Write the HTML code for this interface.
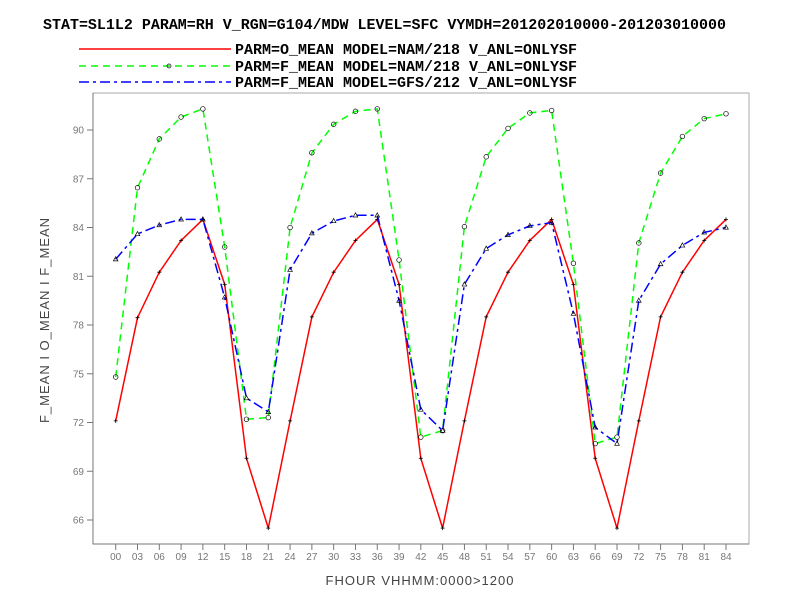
<!DOCTYPE html>
<html><head><meta charset="utf-8"><style>
html,body{margin:0;padding:0;background:#fff;}
svg{display:block;}
.t{font-family:"Liberation Mono",monospace;font-weight:bold;font-size:15px;fill:#000;}
.tk{font-family:"Liberation Sans",sans-serif;font-size:10px;fill:#777;}
.ax{font-family:"Liberation Sans",sans-serif;font-size:13px;fill:#444;letter-spacing:1px;}
</style></head><body>
<svg id="chart" width="792" height="612" viewBox="0 0 792 612" xmlns="http://www.w3.org/2000/svg">
<text class="t" x="43" y="29" textLength="683" lengthAdjust="spacingAndGlyphs">STAT=SL1L2 PARAM=RH V_RGN=G104/MDW LEVEL=SFC VYMDH=201202010000-201203010000</text>
<g>
<g><line x1="79" y1="49" x2="231" y2="49" stroke="#f00" stroke-width="1.5"/><text class="t" x="235" y="54" textLength="342" lengthAdjust="spacingAndGlyphs">PARM=O_MEAN MODEL=NAM/218 V_ANL=ONLYSF</text></g>
<g><line x1="79" y1="66" x2="231" y2="66" stroke="#0f0" stroke-width="1.5" stroke-dasharray="7,5"/><circle cx="169" cy="66" r="2" fill="none" stroke="#000" stroke-width="0.7"/><text class="t" x="235" y="71" textLength="342" lengthAdjust="spacingAndGlyphs">PARM=F_MEAN MODEL=NAM/218 V_ANL=ONLYSF</text></g>
<g><line x1="79" y1="82" x2="231" y2="82" stroke="#00f" stroke-width="1.5" stroke-dasharray="10,4,3,4"/><text class="t" x="235" y="87" textLength="342" lengthAdjust="spacingAndGlyphs">PARM=F_MEAN MODEL=GFS/212 V_ANL=ONLYSF</text></g>
</g>
<rect x="93" y="93" width="656" height="451" fill="none" stroke="#aaa" stroke-width="1"/>
<line x1="93" y1="93" x2="93" y2="544" stroke="#777"/>
<line x1="93" y1="544" x2="749" y2="544" stroke="#777"/>
<g id="yticks"></g><g id="xticks"></g><g id="series"></g>
<text class="ax" transform="translate(49,320) rotate(-90)" text-anchor="middle">F_MEAN I O_MEAN I F_MEAN</text>
<text class="ax" x="420" y="585" text-anchor="middle">FHOUR VHHMM:0000&gt;1200</text>
</svg>
<script>
const categories=["00","03","06","09","12","15","18","21","24","27","30","33","36","39","42","45","48","51","54","57","60","63","66","69","72","75","78","81","84"];
const yTicks=[66,69,72,75,78,81,84,87,90];
const oMeanNam=[72.1,78.45,81.25,83.2,84.5,80.5,69.8,65.5,72.1,78.5,81.25,83.2,84.5,80.5,69.8,65.5,72.1,78.5,81.25,83.2,84.5,80.5,69.8,65.5,72.1,78.5,81.25,83.2,84.5];
const fMeanNam=[74.8,86.45,89.45,90.8,91.3,82.8,72.2,72.3,84.0,88.6,90.35,91.15,91.3,82.0,71.1,71.5,84.05,88.35,90.1,91.05,91.2,81.8,70.7,71.1,83.05,87.35,89.6,90.7,91.0];
const fMeanGfs=[82.05,83.6,84.15,84.5,84.5,79.7,73.5,72.65,81.4,83.65,84.4,84.75,84.75,79.5,72.8,71.5,80.5,82.7,83.55,84.1,84.3,78.7,71.7,70.7,79.5,81.75,82.9,83.7,84.0];
const NS="http://www.w3.org/2000/svg";
function xs(i){return 115.7+i*(726-115.7)/(categories.length-1);}
function ys(v){return 130+(90-v)*16.25;}
function mk(tag,attrs,parent){const e=document.createElementNS(NS,tag);for(const k in attrs)e.setAttribute(k,attrs[k]);parent.appendChild(e);return e;}
const yg=document.getElementById('yticks');
yTicks.forEach(v=>{
  const l=mk('line',{x1:87,x2:93,y1:ys(v),y2:ys(v),stroke:'#777'},yg);
  
  
  const t=mk('text',{x:84,y:ys(v)+3.5,'text-anchor':'end',class:'tk'},yg);
  t.textContent=String(v);
  
  
});
const xg=document.getElementById('xticks');
categories.forEach((c,i)=>{
  const l=mk('line',{x1:xs(i),x2:xs(i),y1:544,y2:550,stroke:'#777'},xg);
  
  
  const t=mk('text',{x:xs(i),y:560,'text-anchor':'middle',class:'tk'},xg);
  t.textContent=c;
  
  
});
const sg=document.getElementById('series');
function drawSeries(vals,color,dash,name,marker){
  const g=mk('g',{},sg);
  
  
  const pts=vals.map((v,i)=>xs(i).toFixed(1)+','+ys(v).toFixed(1)).join(' ');
  const p=mk('polyline',{points:pts,fill:'none',stroke:color,'stroke-width':1.5,'stroke-dasharray':dash},g);
  
  
  vals.forEach((v,i)=>{
    const x=xs(i),y=ys(v);let m;
    if(marker==='plus'){m=mk('path',{d:`M${x-2},${y}h4M${x},${y-2}v4`,stroke:'#000','stroke-width':0.8},g);}
    else if(marker==='circle'){m=mk('circle',{cx:x,cy:y,r:2.3,fill:'none',stroke:'#000','stroke-width':0.7},g);}
    else{m=mk('path',{d:`M${x},${y-2.5}L${x+2.3},${y+1.7}L${x-2.3},${y+1.7}Z`,fill:'none',stroke:'#000','stroke-width':0.7},g);}
    
    
  });
}
drawSeries(oMeanNam,'#f00','none','series-o-mean-nam','plus');
drawSeries(fMeanNam,'#0f0','7,5','series-f-mean-nam','circle');
drawSeries(fMeanGfs,'#00f','10,4,3,4','series-f-mean-gfs','tri');
</script>
</body></html>
